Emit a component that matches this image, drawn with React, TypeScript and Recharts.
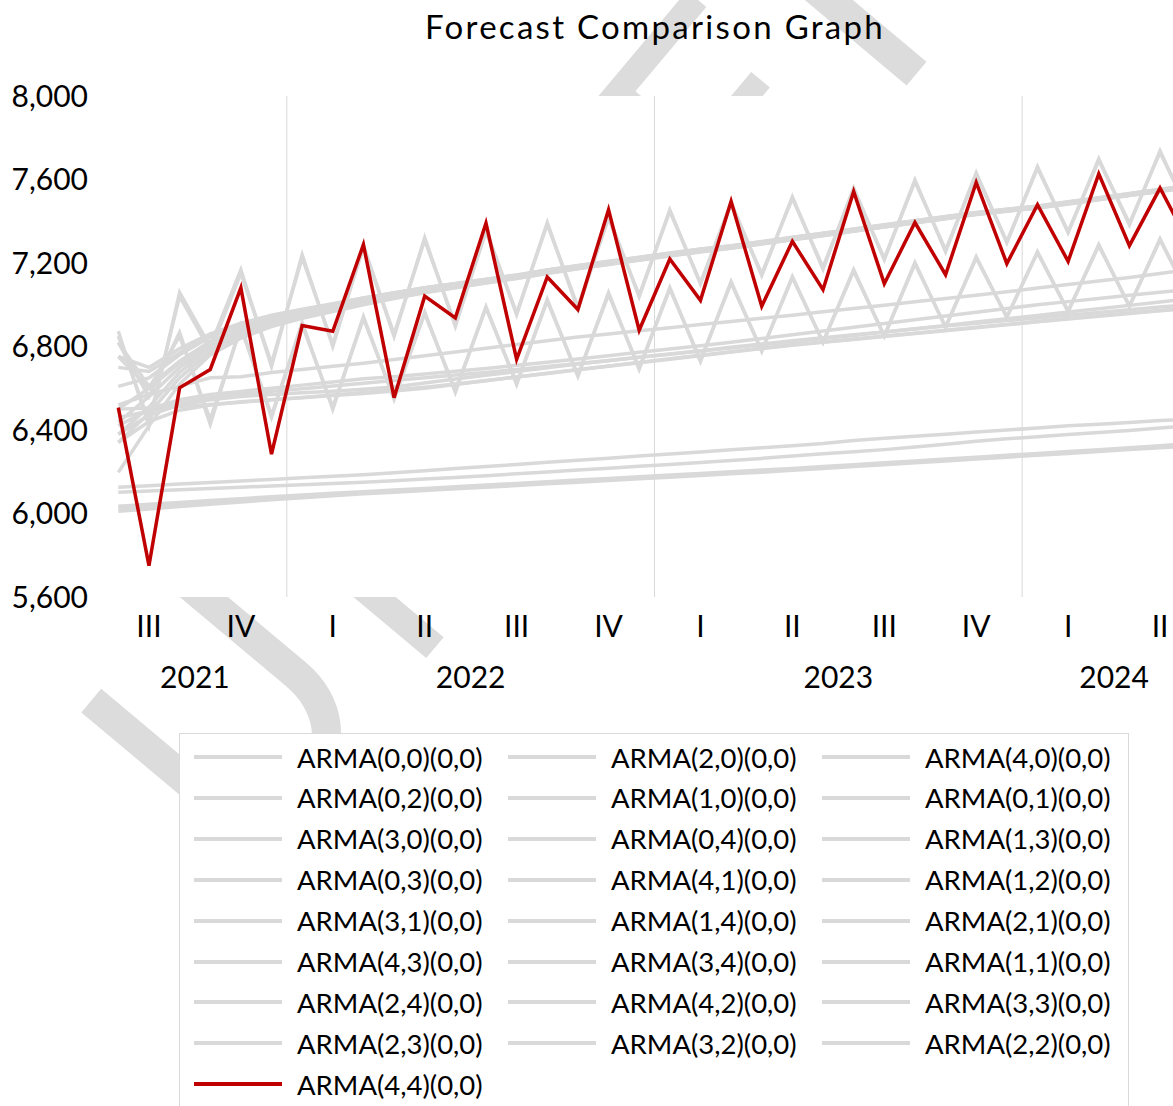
import { CartesianGrid, Line, LineChart, XAxis, YAxis } from 'recharts';

const FONT = 'Lato, "Liberation Sans", sans-serif';
const GRAY = '#d9d9d9';
const RED = '#c00000';

// monthly categories, Jul 2021 .. Jun 2024
const MONTHS = [
  '2021-07', '2021-08', '2021-09', '2021-10', '2021-11', '2021-12',
  '2022-01', '2022-02', '2022-03', '2022-04', '2022-05', '2022-06',
  '2022-07', '2022-08', '2022-09', '2022-10', '2022-11', '2022-12',
  '2023-01', '2023-02', '2023-03', '2023-04', '2023-05', '2023-06',
  '2023-07', '2023-08', '2023-09', '2023-10', '2023-11', '2023-12',
  '2024-01', '2024-02', '2024-03', '2024-04', '2024-05', '2024-06',
];
const QUARTER_LABELS = ['III', 'IV', 'I', 'II', 'III', 'IV', 'I', 'II', 'III', 'IV', 'I', 'II'];
const YEAR_LABELS = ['2021', '2022', '2023', '2024'];
const Y_TICKS = [5600, 6000, 6400, 6800, 7200, 7600, 8000];

// lower group
const arma00 = [6126, 6133, 6141, 6148, 6156, 6163, 6171, 6178, 6186, 6195, 6205, 6215, 6225, 6235, 6245, 6255, 6265, 6275, 6285, 6295, 6305, 6315, 6325, 6335, 6350, 6360, 6370, 6380, 6390, 6400, 6410, 6420, 6428, 6436, 6445, 6453];
const arma10 = [6102, 6108, 6114, 6120, 6126, 6132, 6138, 6144, 6150, 6157, 6165, 6173, 6181, 6190, 6199, 6208, 6217, 6226, 6235, 6244, 6254, 6264, 6276, 6286, 6296, 6306, 6318, 6332, 6346, 6358, 6368, 6378, 6388, 6398, 6410, 6420];
const arma01 = [6035, 6044, 6053, 6062, 6071, 6080, 6089, 6097, 6104, 6112, 6120, 6128, 6136, 6144, 6152, 6160, 6168, 6176, 6184, 6192, 6200, 6208, 6216, 6225, 6234, 6243, 6252, 6261, 6270, 6279, 6288, 6297, 6306, 6315, 6325, 6335];
const arma20 = [6011, 6022, 6033, 6044, 6055, 6066, 6076, 6085, 6094, 6102, 6110, 6118, 6126, 6134, 6142, 6150, 6158, 6166, 6174, 6182, 6190, 6198, 6207, 6216, 6225, 6234, 6243, 6252, 6261, 6270, 6279, 6288, 6297, 6306, 6315, 6324];
const arma02 = [6025, 6035, 6045, 6055, 6064, 6073, 6082, 6090, 6098, 6106, 6114, 6122, 6130, 6138, 6146, 6154, 6162, 6170, 6178, 6186, 6194, 6202, 6211, 6220, 6229, 6238, 6247, 6256, 6265, 6274, 6283, 6292, 6301, 6310, 6319, 6329];

// middle group
const arma30 = [6520, 6570, 6610, 6650, 6655, 6675, 6690, 6705, 6720, 6738, 6756, 6774, 6792, 6810, 6828, 6845, 6860, 6875, 6890, 6905, 6920, 6935, 6950, 6966, 6982, 6998, 7014, 7030, 7046, 7062, 7080, 7097, 7114, 7131, 7150, 7168];
const arma03 = [6420, 6500, 6545, 6570, 6585, 6600, 6615, 6630, 6645, 6655, 6668, 6681, 6695, 6710, 6725, 6740, 6756, 6772, 6788, 6804, 6820, 6838, 6856, 6874, 6892, 6910, 6928, 6946, 6964, 6982, 7000, 7015, 7030, 7045, 7060, 7075];
const arma40 = [6380, 6470, 6520, 6545, 6560, 6570, 6578, 6586, 6595, 6606, 6625, 6644, 6662, 6680, 6698, 6716, 6732, 6748, 6764, 6780, 6796, 6812, 6828, 6842, 6856, 6870, 6884, 6898, 6911, 6924, 6937, 6950, 6963, 6976, 6989, 7002];
const arma04 = [6340, 6440, 6495, 6520, 6535, 6545, 6555, 6565, 6575, 6587, 6600, 6618, 6636, 6654, 6672, 6690, 6707, 6724, 6741, 6758, 6775, 6792, 6808, 6822, 6836, 6850, 6864, 6878, 6892, 6906, 6920, 6934, 6947, 6960, 6973, 6986];
const arma11 = [6500, 6505, 6512, 6522, 6533, 6545, 6556, 6568, 6580, 6592, 6605, 6620, 6637, 6654, 6671, 6688, 6705, 6722, 6739, 6756, 6773, 6790, 6806, 6820, 6834, 6848, 6862, 6876, 6890, 6904, 6918, 6932, 6945, 6958, 6971, 6984];
const arma12 = [6460, 6490, 6530, 6555, 6572, 6585, 6598, 6611, 6624, 6637, 6650, 6663, 6676, 6690, 6704, 6718, 6733, 6748, 6763, 6778, 6793, 6808, 6823, 6838, 6853, 6869, 6885, 6901, 6917, 6933, 6949, 6965, 6981, 6997, 7013, 7030];

// upper smooth bundle
const arma21 = [6752, 6700, 6790, 6860, 6912, 6950, 6978, 7005, 7033, 7058, 7082, 7102, 7122, 7143, 7167, 7188, 7208, 7228, 7248, 7267, 7283, 7303, 7323, 7343, 7363, 7383, 7403, 7423, 7442, 7458, 7473, 7493, 7513, 7533, 7553, 7573];
const arma13 = [6609, 6650, 6760, 6845, 6900, 6942, 6972, 7001, 7030, 7055, 7080, 7100, 7120, 7140, 7165, 7185, 7205, 7225, 7245, 7265, 7280, 7300, 7320, 7340, 7360, 7380, 7400, 7420, 7440, 7455, 7470, 7490, 7510, 7530, 7550, 7570];
const arma41 = [6437, 6560, 6700, 6800, 6865, 6915, 6952, 6985, 7015, 7043, 7069, 7091, 7113, 7134, 7158, 7179, 7200, 7220, 7240, 7260, 7276, 7296, 7316, 7336, 7357, 7377, 7397, 7417, 7437, 7452, 7467, 7487, 7507, 7527, 7547, 7567];
const arma14 = [6379, 6510, 6676, 6790, 6855, 6905, 6943, 6976, 7007, 7036, 7062, 7085, 7107, 7129, 7153, 7175, 7196, 7216, 7236, 7256, 7273, 7293, 7313, 7333, 7354, 7374, 7394, 7414, 7434, 7450, 7465, 7485, 7505, 7525, 7545, 7565];
const arma31 = [6197, 6420, 6620, 6760, 6840, 6895, 6935, 6968, 7000, 7030, 7057, 7081, 7104, 7126, 7150, 7172, 7193, 7213, 7233, 7253, 7271, 7291, 7311, 7331, 7352, 7372, 7392, 7412, 7432, 7448, 7463, 7483, 7503, 7523, 7543, 7563];
const arma24 = [6819, 6610, 6730, 6825, 6885, 6932, 6965, 6995, 7025, 7050, 7075, 7096, 7117, 7138, 7162, 7183, 7203, 7223, 7243, 7263, 7279, 7299, 7319, 7339, 7359, 7379, 7399, 7419, 7439, 7455, 7470, 7490, 7510, 7530, 7550, 7570];
const arma23 = [6341, 6480, 6650, 6775, 6848, 6900, 6938, 6972, 7004, 7033, 7060, 7083, 7105, 7127, 7151, 7173, 7194, 7215, 7235, 7255, 7272, 7292, 7312, 7332, 7353, 7373, 7393, 7413, 7433, 7449, 7464, 7484, 7504, 7524, 7544, 7564];
const arma32 = [6700, 6680, 6770, 6850, 6905, 6946, 6975, 7003, 7032, 7057, 7081, 7101, 7121, 7142, 7166, 7187, 7207, 7227, 7247, 7266, 7282, 7302, 7322, 7342, 7362, 7382, 7402, 7422, 7441, 7457, 7472, 7492, 7512, 7532, 7552, 7572];
const arma22 = [6500, 6600, 6720, 6815, 6878, 6925, 6960, 6990, 7020, 7047, 7072, 7094, 7116, 7137, 7160, 7181, 7202, 7222, 7242, 7261, 7278, 7298, 7318, 7338, 7358, 7378, 7398, 7418, 7438, 7453, 7468, 7488, 7508, 7528, 7548, 7568];

// seasonal zigzags
const arma43 = [6873, 6418, 7058, 6800, 7168, 6704, 7240, 6800, 7285, 6848, 7321, 6896, 7360, 6953, 7393, 6977, 7425, 7039, 7455, 7100, 7490, 7140, 7517, 7170, 7560, 7216, 7598, 7254, 7632, 7297, 7661, 7345, 7699, 7383, 7737, 7420];
const arma34 = [6850, 6440, 7040, 6780, 7150, 6720, 7225, 6810, 7275, 6860, 7310, 6905, 7350, 6960, 7385, 6990, 7415, 7045, 7448, 7105, 7480, 7148, 7510, 7180, 7550, 7222, 7590, 7262, 7625, 7302, 7655, 7350, 7692, 7390, 7730, 7428];
const arma33 = [6819, 6560, 6867, 6427, 6900, 6460, 6915, 6499, 6943, 6547, 6965, 6580, 6991, 6618, 7025, 6657, 7058, 6690, 7082, 6728, 7111, 6776, 7135, 6819, 7168, 6848, 7202, 6891, 7230, 6939, 7254, 6967, 7288, 6991, 7316, 7020];
const arma42 = [6752, 6600, 6850, 6450, 6890, 6470, 6905, 6510, 6935, 6555, 6958, 6590, 6985, 6625, 7018, 6662, 7050, 6697, 7076, 6735, 7104, 6780, 7130, 6822, 7162, 6852, 7196, 6895, 7224, 6942, 7250, 6970, 7283, 6995, 7311, 7025];

// highlighted model
const arma44 = [6507, 5750, 6602, 6690, 7081, 6284, 6900, 6873, 7288, 6555, 7041, 6937, 7391, 6738, 7133, 6977, 7455, 6878, 7219, 7021, 7495, 6993, 7304, 7072, 7543, 7101, 7394, 7144, 7586, 7197, 7479, 7208, 7627, 7283, 7559, 7280];

const SERIES = [
  { key: 'arma00', name: 'ARMA(0,0)(0,0)', values: arma00, color: GRAY },
  { key: 'arma20', name: 'ARMA(2,0)(0,0)', values: arma20, color: GRAY },
  { key: 'arma40', name: 'ARMA(4,0)(0,0)', values: arma40, color: GRAY },
  { key: 'arma02', name: 'ARMA(0,2)(0,0)', values: arma02, color: GRAY },
  { key: 'arma10', name: 'ARMA(1,0)(0,0)', values: arma10, color: GRAY },
  { key: 'arma01', name: 'ARMA(0,1)(0,0)', values: arma01, color: GRAY },
  { key: 'arma30', name: 'ARMA(3,0)(0,0)', values: arma30, color: GRAY },
  { key: 'arma04', name: 'ARMA(0,4)(0,0)', values: arma04, color: GRAY },
  { key: 'arma13', name: 'ARMA(1,3)(0,0)', values: arma13, color: GRAY },
  { key: 'arma03', name: 'ARMA(0,3)(0,0)', values: arma03, color: GRAY },
  { key: 'arma41', name: 'ARMA(4,1)(0,0)', values: arma41, color: GRAY },
  { key: 'arma12', name: 'ARMA(1,2)(0,0)', values: arma12, color: GRAY },
  { key: 'arma31', name: 'ARMA(3,1)(0,0)', values: arma31, color: GRAY },
  { key: 'arma14', name: 'ARMA(1,4)(0,0)', values: arma14, color: GRAY },
  { key: 'arma21', name: 'ARMA(2,1)(0,0)', values: arma21, color: GRAY },
  { key: 'arma43', name: 'ARMA(4,3)(0,0)', values: arma43, color: GRAY },
  { key: 'arma34', name: 'ARMA(3,4)(0,0)', values: arma34, color: GRAY },
  { key: 'arma11', name: 'ARMA(1,1)(0,0)', values: arma11, color: GRAY },
  { key: 'arma24', name: 'ARMA(2,4)(0,0)', values: arma24, color: GRAY },
  { key: 'arma42', name: 'ARMA(4,2)(0,0)', values: arma42, color: GRAY },
  { key: 'arma33', name: 'ARMA(3,3)(0,0)', values: arma33, color: GRAY },
  { key: 'arma23', name: 'ARMA(2,3)(0,0)', values: arma23, color: GRAY },
  { key: 'arma32', name: 'ARMA(3,2)(0,0)', values: arma32, color: GRAY },
  { key: 'arma22', name: 'ARMA(2,2)(0,0)', values: arma22, color: GRAY },
  { key: 'arma44', name: 'ARMA(4,4)(0,0)', values: arma44, color: RED },
];

const data = MONTHS.map((month, i) => {
  const row: Record<string, number | string> = { month, x: i + 0.5 };
  SERIES.forEach((s) => {
    row[s.key] = s.values[i];
  });
  return row;
});

// group consecutive months into quarters / years for the two label rows
function groupCenters(keyOf: (m: string) => string) {
  const groups: { key: string; start: number; end: number }[] = [];
  MONTHS.forEach((m, i) => {
    const k = keyOf(m);
    const last = groups[groups.length - 1];
    if (last && last.key === k) last.end = i + 1;
    else groups.push({ key: k, start: i, end: i + 1 });
  });
  return groups;
}
const quarterGroups = groupCenters((m) => m.slice(0, 4) + 'Q' + Math.floor((+m.slice(5) - 1) / 3));
const yearGroups = groupCenters((m) => m.slice(0, 4));
const quarterTicks = quarterGroups.map((g) => (g.start + g.end) / 2);
const yearTicks = yearGroups.map((g) => (g.start + g.end) / 2);
const yearBounds = yearGroups.slice(1).map((g) => g.start);

const tickStyle = { fontSize: 30, fill: '#000', fontFamily: FONT };

function Legend() {
  return (
    <div
      style={{
        position: 'absolute',
        left: 179,
        top: 733,
        width: 950,
        height: 420,
        border: `1.5px solid ${GRAY}`,
        background: '#fff',
        boxSizing: 'border-box',
        fontFamily: FONT,
        fontSize: 27.5,
        color: '#000',
      }}
    >
      {SERIES.map((s, i) => (
        <div
          key={s.key}
          style={{
            position: 'absolute',
            left: 14 + (i % 3) * 314,
            top: 3 + Math.floor(i / 3) * 40.9,
            height: 40,
            display: 'flex',
            alignItems: 'center',
            whiteSpace: 'nowrap',
          }}
        >
          <span style={{ display: 'inline-block', width: 88, height: 4, background: s.color, marginRight: 15 }} />
          {s.name}
        </div>
      ))}
    </div>
  );
}

export default function App() {
  return (
    <div
      style={{
        position: 'absolute',
        left: 0,
        top: 0,
        width: 1173,
        height: 1106,
        overflow: 'hidden',
        background: '#fff',
      }}
    >
      <svg width={1173} height={1106} style={{ position: 'absolute', left: 0, top: 0 }}>
        <text
          transform="translate(240,880) rotate(-50)"
          fontSize={320}
          letterSpacing={25}
          fontFamily={FONT}
          fill="#dcdcdc"
        >
          UNDER REVIEW
        </text>
      </svg>
      <div
        style={{
          position: 'absolute',
          left: 0,
          top: 5,
          width: 1310,
          textAlign: 'center',
          fontFamily: FONT,
          fontSize: 33,
          letterSpacing: 2.3,
          lineHeight: '42px',
          color: '#000',
        }}
      >
        Forecast Comparison Graph
      </div>
      <div style={{ position: 'absolute', left: 0, top: 0 }}>
        <LineChart
          width={1230}
          height={697}
          data={data}
          margin={{ top: 96, right: 24, left: 0, bottom: 0 }}
        >
          <CartesianGrid
            xAxisId="q"
            horizontal={false}
            verticalValues={yearBounds}
            stroke={GRAY}
            fill="#fff"
            fillOpacity={1}
          />
          <XAxis
            xAxisId="q"
            type="number"
            dataKey="x"
            domain={[0, MONTHS.length]}
            ticks={quarterTicks}
            tickFormatter={(v: number) => QUARTER_LABELS[quarterTicks.indexOf(v)] ?? ''}
            interval={0}
            axisLine={false}
            tickLine={false}
            tick={tickStyle}
            tickMargin={13}
            height={50}
          />
          <XAxis
            xAxisId="yr"
            type="number"
            dataKey="x"
            domain={[0, MONTHS.length]}
            allowDataOverflow
            ticks={yearTicks}
            tickFormatter={(v: number) => YEAR_LABELS[yearTicks.indexOf(v)] ?? ''}
            interval={0}
            axisLine={false}
            tickLine={false}
            tick={tickStyle}
            tickMargin={14}
            height={50}
          />
          <YAxis
            domain={[5600, 8000]}
            ticks={Y_TICKS}
            interval={0}
            axisLine={false}
            tickLine={false}
            tick={tickStyle}
            tickMargin={9}
            width={103}
            tickFormatter={(v: number) => v.toLocaleString('en-US')}
          />
          {SERIES.map((s) => (
            <Line
              key={s.key}
              xAxisId="q"
              type="linear"
              dataKey={s.key}
              name={s.name}
              stroke={s.color}
              strokeWidth={3.5}
              dot={false}
              activeDot={false}
              isAnimationActive={false}
            />
          ))}
        </LineChart>
      </div>
      <Legend />
    </div>
  );
}
